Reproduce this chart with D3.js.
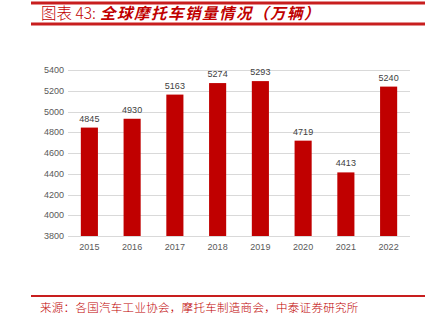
<!DOCTYPE html>
<html><head><meta charset="utf-8">
<script src="https://cdn.jsdelivr.net/npm/d3@7/dist/d3.min.js"></script>
<style>body{margin:0;background:#fff;}svg{display:block;}</style>
</head><body>
<svg id="c" width="435" height="323"></svg>
<script>
const years = ["2015","2016","2017","2018","2019","2020","2021","2022"];
const sales = [4845,4930,5163,5274,5293,4719,4413,5240];
const yTicks = [3800,4000,4200,4400,4600,4800,5000,5200,5400];
const titleNum = "图表 43:";
const titleText = "全球摩托车销量情况（万辆）";
const sourceText = "来源：各国汽车工业协会，摩托车制造商会，中泰证券研究所";

const svg = d3.select("#c");
const red = "#c00000";
const lineRed = "#c81e1e";
const font = "'Liberation Sans', Arial, sans-serif";
const cjk = "'Noto Sans CJK SC', sans-serif";

svg.append("rect").attr("x",31).attr("y",1.5).attr("width",394).attr("height",3).attr("fill",lineRed);
svg.append("rect").attr("x",31).attr("y",22.5).attr("width",394).attr("height",3).attr("fill",lineRed);
svg.append("rect").attr("x",31).attr("y",295).attr("width",394).attr("height",2).attr("fill",lineRed);

const t = svg.append("text").attr("x",41).attr("y",19).attr("fill",red).attr("font-family",cjk).attr("font-size",15.5);
t.append("tspan").attr("font-weight","300").text(titleNum);
t.append("tspan").attr("font-weight","bold").attr("font-style","italic").attr("dx",4).attr("letter-spacing",1.5).text(titleText);

const x = d3.scaleBand().domain(years).range([68,410]).paddingInner(0.6).paddingOuter(0.3);
const y = d3.scaleLinear().domain([3800,5400]).range([236,70]);

const g = svg.append("g");
g.selectAll("line.grid").data(yTicks).enter().append("line")
  .attr("x1",68).attr("x2",410).attr("y1",d=>Math.round(y(d))+0.5).attr("y2",d=>Math.round(y(d))+0.5)
  .attr("stroke","#d9d9d9").attr("stroke-width",1);
g.selectAll("text.yt").data(yTicks).enter().append("text")
  .attr("x",64).attr("y",d=>y(d)+3).attr("text-anchor","end")
  .attr("font-family",font).attr("font-size",9).attr("fill","#595959").text(d=>d);

g.selectAll("rect.bar").data(sales).enter().append("rect").attr("class","bar")
  .attr("x",(d,i)=>x(years[i])).attr("width",x.bandwidth())
  .attr("y",d=>y(d)).attr("height",d=>y(3800)-y(d)).attr("fill",red);
g.selectAll("text.v").data(sales).enter().append("text")
  .attr("x",(d,i)=>x(years[i])+x.bandwidth()/2).attr("y",d=>y(d)-6).attr("text-anchor","middle")
  .attr("font-family",font).attr("font-size",9).attr("fill","#404040").text(d=>d);
g.selectAll("text.xl").data(years).enter().append("text")
  .attr("x",d=>x(d)+x.bandwidth()/2).attr("y",250).attr("text-anchor","middle")
  .attr("font-family",font).attr("font-size",9).attr("fill","#595959").text(d=>d);

svg.append("text").attr("x",40).attr("y",312).attr("fill",red).attr("font-family",cjk).attr("font-weight","300")
  .attr("font-size",11.5).attr("letter-spacing",0.3).text(sourceText);
</script>
</body></html>
